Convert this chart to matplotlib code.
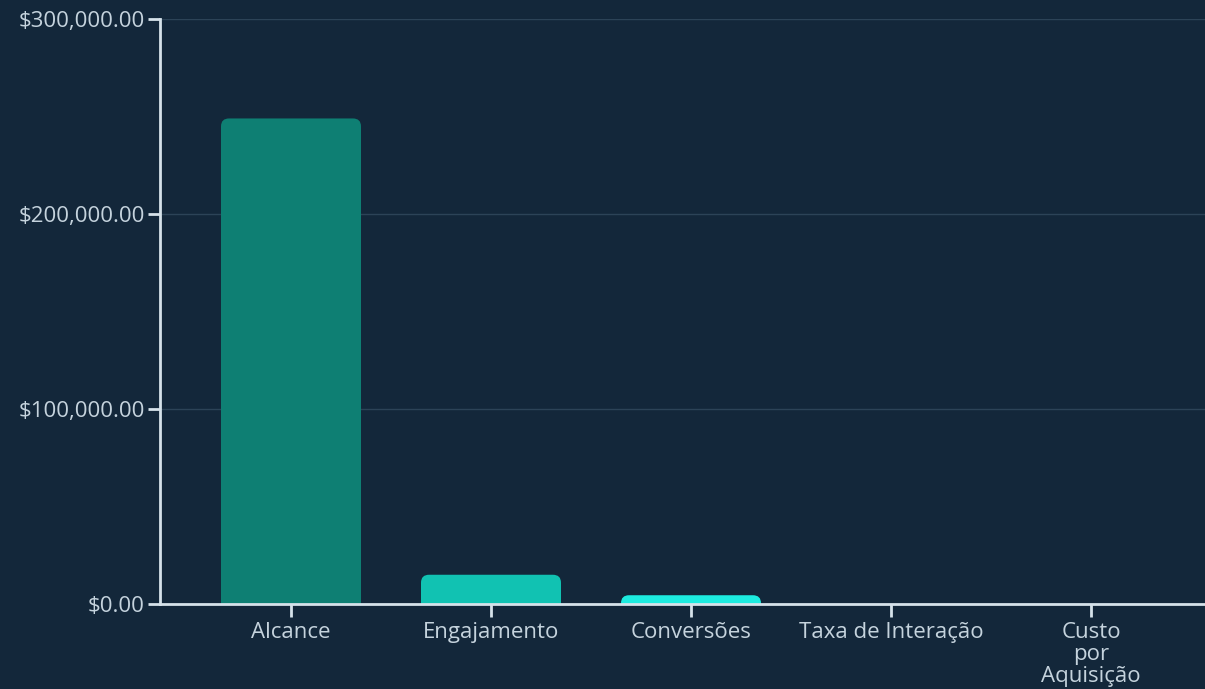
import numpy as np
import matplotlib.pyplot as plt
from matplotlib.patches import FancyBboxPatch
from matplotlib.ticker import FuncFormatter

# dados do grafico
categorias = ['Alcance', 'Engajamento', 'Conversões', 'Taxa de Interação', 'Custo\npor\nAquisição']
valores = [249000, 15000, 4500, 5.2, 22.5]
cores = ['#0e7f73', '#11c2b2', '#1debdf', '#5ff5ec', '#9ffaf4']
yticks = [0, 100000, 200000, 300000]

bg = '#13273a'
fg = '#d6e2ea'
txt = '#c5d3dd'

plt.rcParams['font.family'] = ['Open Sans', 'DejaVu Sans']

fig = plt.figure(figsize=(12.05, 6.89), dpi=100, facecolor=bg)
ax = fig.add_axes([160/1205, 85/689, 1045/1205, 585/689])
ax.set_facecolor(bg)

x = np.arange(len(categorias))
bars = ax.bar(x, valores, width=0.7, color=cores)

# cantos arredondados
ax.set_xlim(-0.655, 4.57)
ax.set_ylim(0, 300000)
r = 0.04
asp = 102000
for b in bars:
    b.set_visible(False)
    h = b.get_height()
    rr = min(r, (h + r*asp) / asp / 2)
    p = FancyBboxPatch((b.get_x(), -r*asp), b.get_width(), h + r*asp,
                       boxstyle='round,pad=0,rounding_size=%f' % rr,
                       mutation_aspect=asp, facecolor=b.get_facecolor(),
                       edgecolor='none', clip_on=True, zorder=2)
    ax.add_patch(p)

ax.set_yticks(yticks)
ax.yaxis.set_major_formatter(FuncFormatter(lambda v, p: '${:,.2f}'.format(v)))
ax.set_xticks(x)
ax.set_xticklabels(categorias, linespacing=1.05)
ax.grid(axis='y', color='#2c4357', linewidth=1)
ax.set_axisbelow(True)

for s in ['top', 'right']:
    ax.spines[s].set_visible(False)
for s in ['left', 'bottom']:
    ax.spines[s].set_color(fg)
    ax.spines[s].set_linewidth(2)
    ax.spines[s].set_zorder(3)

ax.tick_params(axis='both', colors=fg, labelcolor=txt, labelsize=16,
               length=9, width=2)
ax.tick_params(axis='x', pad=4)
ax.tick_params(axis='y', pad=2)

fig.savefig('out.png', facecolor=bg)
